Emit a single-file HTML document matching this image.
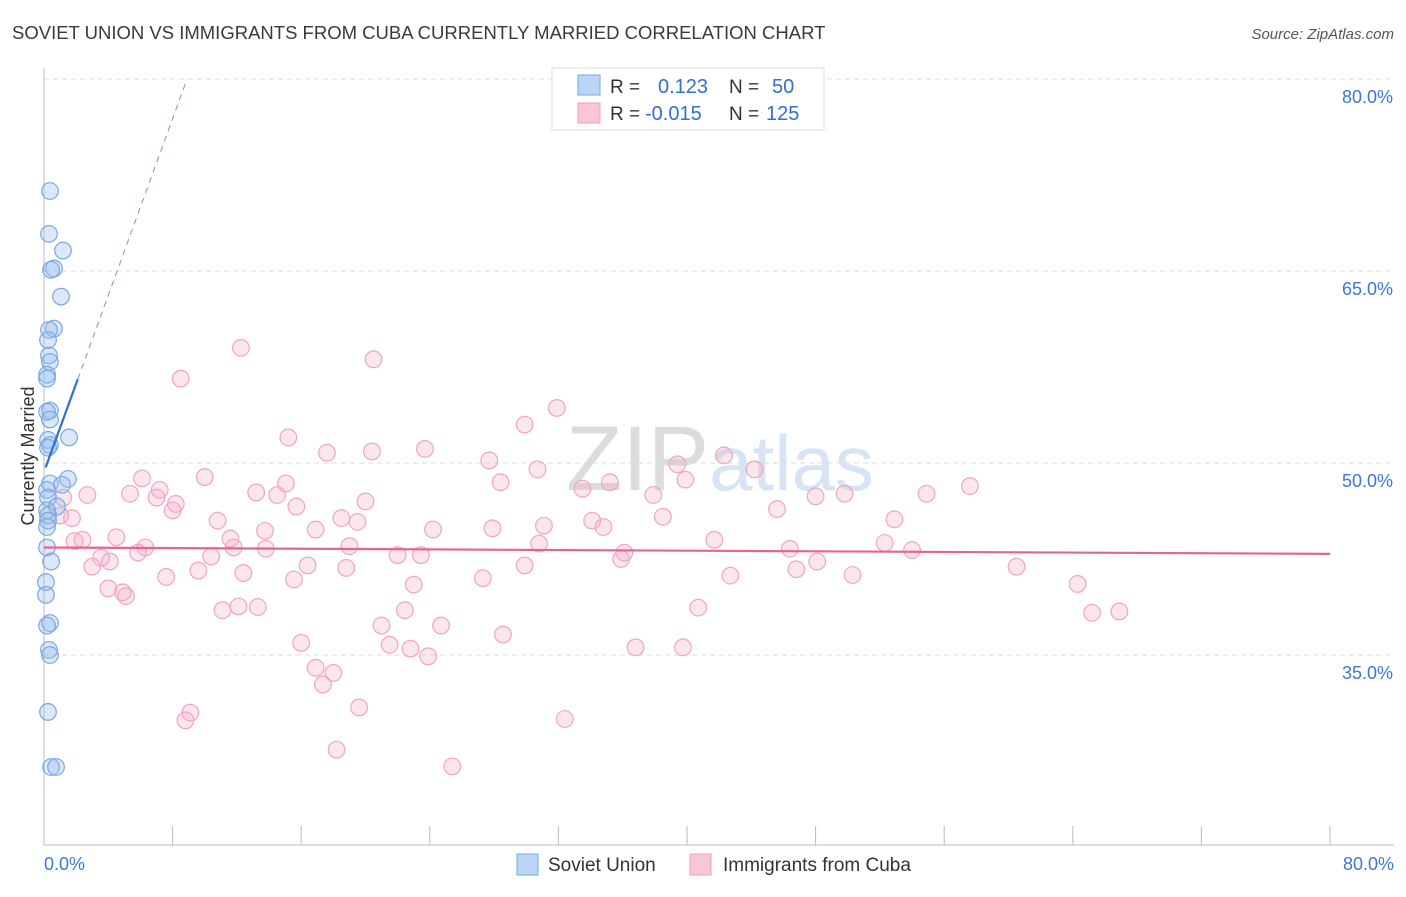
<!DOCTYPE html>
<html><head><meta charset="utf-8"><style>
body{margin:0;background:#fff;font-family:"Liberation Sans",sans-serif;}
svg text{font-family:"Liberation Sans",sans-serif;}
</style></head><body>
<svg id="chart" width="1406" height="892" viewBox="0 0 1406 892">
<text x="12" y="39" font-size="18.5" fill="#3a3a3a">SOVIET UNION VS IMMIGRANTS FROM CUBA CURRENTLY MARRIED CORRELATION CHART</text>
<text x="1394" y="39" font-size="15" fill="#555" font-style="italic" text-anchor="end">Source: ZipAtlas.com</text>
<text x="720" y="490" font-size="92" fill="#e6e6e6" text-anchor="middle" font-family="Liberation Serif"><tspan fill="#dcdcdc">ZIP</tspan><tspan fill="#d6e4f5" font-family="Liberation Sans" font-size="78">atlas</tspan></text>
<g id="grid"></g>
<g id="axes"></g>
<g id="points"></g>
<g id="trends"></g>
<text transform="translate(34,456) rotate(-90)" font-size="18" fill="#333" text-anchor="middle">Currently Married</text>
<g>
<rect x="552" y="68" width="272" height="62" fill="#fff" stroke="#ddd"/>
<rect x="578" y="75" width="22" height="20" fill="#bcd5f5" stroke="#7aa7e0"/>
<rect x="578" y="103" width="22" height="20" fill="#f9c6d6" stroke="#f0a0bd"/>
<text x="610" y="93" font-size="19" fill="#333">R = </text><text x="658" y="93" font-size="20" fill="#2f6fd6">0.123</text>
<text x="729" y="93" font-size="19" fill="#333">N = </text><text x="772" y="93" font-size="20" fill="#2f6fd6">50</text>
<text x="610" y="120" font-size="19" fill="#333">R = </text><text x="645" y="120" font-size="20" fill="#2f6fd6">-0.015</text>
<text x="729" y="120" font-size="19" fill="#333">N = </text><text x="766" y="120" font-size="20" fill="#2f6fd6">125</text>
</g>
<g>
<rect x="517" y="854" width="21" height="21" fill="#bcd5f5" stroke="#7aa7e0"/>
<text x="548" y="871" font-size="19" fill="#333">Soviet Union</text>
<rect x="690" y="854" width="21" height="21" fill="#f9c6d6" stroke="#f0a0bd"/>
<text x="723" y="871" font-size="19" fill="#333">Immigrants from Cuba</text>
</g>
</svg>
<script>
const yTicks=[80,65,50,35];
const yTickLabels=["80.0%","65.0%","50.0%","35.0%"];
const xTickLabels=["0.0%","80.0%"];
const blueX=[.37,.31,1.18,.62,.44,1.06,.62,.31,.25,.31,.37,.19,.19,.37,.19,.37,1.56,.25,.37,.25,1.49,.37,1.12,.19,.25,.81,.19,.25,.25,.19,.19,.44,.12,.12,.37,.19,.31,.37,.25,.44,.75];
const blueY=[71.25,67.9,66.6,65.2,65.1,63.0,60.5,60.4,59.6,58.4,57.9,56.9,56.6,54.1,54.0,53.4,52.0,51.8,51.4,51.2,48.75,48.4,48.3,47.9,47.3,46.6,46.3,45.9,45.5,45.0,43.4,42.3,40.7,39.7,37.5,37.3,35.4,35.0,30.55,26.25,26.25];
const pinkX=[12.25,20.5,8.5,31.9,29.9,15.2,17.6,20.4,23.7,42.3,27.7,39.4,30.7,44.2,6.1,10.0,39.9,57.6,28.4,33.5,35.2,5.35,7.2,7.0,13.2,15.05,14.5,20.0,48.0,49.8,54.9,37.9,2.7,1.2,8.2,15.7,8.0,45.6,1.0,1.74,18.5,19.5,10.8,34.1,38.5,52.9,31.1,34.8,24.2,27.9,16.9,13.75,4.5,11.6,2.4,1.9,30.8,41.7,52.3,6.3,11.8,13.8,19.0,46.4,54.0,5.85,36.1,3.55,10.4,22.0,23.45,35.9,4.1,3.0,16.4,18.8,48.1,12.4,9.6,29.9,46.8,7.6,27.3,42.7,50.3,15.55,60.5,64.3,4.0,23.0,4.9,5.1,11.1,12.1,13.3,22.45,40.7,65.2,66.9,21.0,24.7,28.55,16.0,21.5,22.8,23.9,36.8,39.75,16.9,18.0,17.35,19.6,9.1,8.8,32.4,18.2,25.4];
const pinkY=[59.0,58.1,56.6,54.3,53.0,52.0,50.8,50.9,51.1,50.6,50.2,49.9,49.5,49.5,48.8,48.9,48.7,48.2,48.5,48.0,48.5,47.6,47.9,47.3,47.7,48.4,47.5,47.0,47.4,47.6,47.6,47.5,47.5,47.3,46.8,46.6,46.3,46.4,45.9,45.7,45.7,45.4,45.5,45.5,45.8,45.6,45.1,45.0,44.8,44.9,44.8,44.7,44.2,44.1,44.0,43.9,43.7,44.0,43.75,43.4,43.4,43.3,43.5,43.3,43.2,43.0,43.0,42.6,42.7,42.8,42.8,42.5,42.3,41.9,42.0,41.8,42.3,41.4,41.6,42.0,41.7,41.1,41.0,41.2,41.25,40.9,41.9,40.55,40.2,40.5,39.9,39.6,38.5,38.8,38.75,38.5,38.7,38.3,38.4,37.3,37.3,36.6,35.95,35.8,35.5,34.9,35.6,35.6,34.0,33.6,32.7,30.9,30.5,29.9,30.0,27.6,26.3];
const blueTrend=[49.3,3.45];
const pinkTrend=[43.4,-0.00625];
const NS="http://www.w3.org/2000/svg";
const X=v=>44+v*16.075, Y=v=>79+(80-v)*12.8;
function mk(tag,attrs,parent){const e=document.createElementNS(NS,tag);for(const k in attrs)e.setAttribute(k,attrs[k]);document.getElementById(parent).appendChild(e);return e;}
yTicks.forEach((t,i)=>{
 const l=mk('line',{x1:44,x2:1394,y1:Y(t),y2:Y(t),stroke:'#ddd','stroke-dasharray':'5,4'},'grid');
 
 
 const tx=mk('text',{x:1393,y:Y(t)+24,'font-size':18,fill:'#3b78d8','text-anchor':'end'},'axes');
 tx.textContent=yTickLabels[i];
 
 
});
const ax=mk('line',{x1:44,x2:44,y1:68,y2:845,stroke:'#bbb'},'axes');


const bx=mk('line',{x1:44,x2:1394,y1:845,y2:845,stroke:'#bbb'},'axes');


for(let i=0;i<=10;i++){const t=mk('line',{x1:X(i*8),x2:X(i*8),y1:826,y2:845,stroke:'#bbb'},'axes');
 
 }
[[0,'start',44],[80,'end',1394]].forEach((d,i)=>{const t=mk('text',{x:d[2],y:870,'font-size':18,fill:'#3b78d8','text-anchor':d[1]},'axes');t.textContent=xTickLabels[i];
 
 });
pinkX.forEach((v,i)=>{const c=mk('circle',{cx:X(v),cy:Y(pinkY[i]),r:8.3,fill:'rgba(246,172,198,0.3)',stroke:'#f0a5c0','stroke-width':1.2},'points');
 
 });
blueX.forEach((v,i)=>{const c=mk('circle',{cx:X(v),cy:Y(blueY[i]),r:8.3,fill:'rgba(150,190,240,0.35)',stroke:'#7aa7e0','stroke-width':1.2},'points');
 
 });
const bf=x=>blueTrend[0]+blueTrend[1]*x;
const bt=mk('line',{x1:X(0.1),y1:Y(bf(0.1)),x2:X(2.1),y2:Y(bf(2.1)),stroke:'#2f6fd6','stroke-width':2.2},'trends');


const xe=(80-blueTrend[0])/blueTrend[1];
const bd=mk('line',{x1:X(2.1),y1:Y(bf(2.1)),x2:X(xe),y2:Y(80),stroke:'#6b9be0','stroke-width':1,'stroke-dasharray':'6,5'},'trends');


const pf=x=>pinkTrend[0]+pinkTrend[1]*x;
const pt=mk('line',{x1:X(0),y1:Y(pf(0)),x2:X(80),y2:Y(pf(80)),stroke:'#e9628f','stroke-width':2.2},'trends');


</script>
</body></html>
